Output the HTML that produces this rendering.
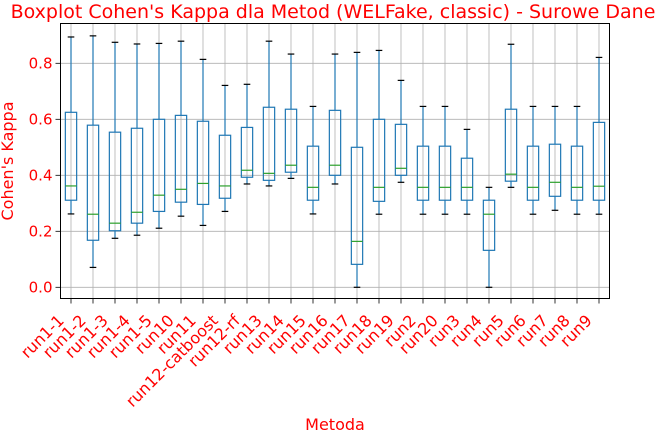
<!DOCTYPE html>
<html><head><meta charset="utf-8"><style>
html,body{margin:0;padding:0;background:#fff;}
svg{display:block;font-family:"DejaVu Sans","Liberation Sans",sans-serif;}
</style></head><body>
<svg id="chart" width="665" height="435" viewBox="0 0 665 435">
<text x="333" y="18" text-anchor="middle" font-size="19" fill="#ff0000">Boxplot Cohen's Kappa dla Metod (WELFake, classic) - Surowe Dane</text>
<text x="335" y="430" text-anchor="middle" font-size="16" fill="#ff0000">Metoda</text>
<text transform="translate(13,161) rotate(-90)" text-anchor="middle" font-size="16" fill="#ff0000">Cohen's Kappa</text>
<g id="grid"></g><g id="boxes"></g><g id="axes"></g>
</svg>
<script>
const categories=["run1-1","run1-2","run1-3","run1-4","run1-5","run10","run11","run12-catboost","run12-rf","run13","run14","run15","run16","run17","run18","run19","run2","run20","run3","run4","run5","run6","run7","run8","run9"];
const whiskerLow=[0.262,0.071,0.175,0.186,0.211,0.254,0.221,0.271,0.369,0.362,0.389,0.262,0.369,0.0,0.261,0.375,0.261,0.261,0.261,0.0,0.357,0.261,0.275,0.261,0.261];
const q1=[0.311,0.168,0.202,0.229,0.271,0.304,0.296,0.318,0.393,0.382,0.411,0.311,0.400,0.082,0.307,0.400,0.311,0.311,0.311,0.132,0.379,0.311,0.325,0.311,0.311];
const median=[0.362,0.261,0.229,0.268,0.329,0.350,0.371,0.362,0.418,0.407,0.436,0.357,0.436,0.164,0.357,0.425,0.357,0.357,0.357,0.261,0.404,0.357,0.375,0.357,0.361];
const q3=[0.625,0.579,0.554,0.568,0.600,0.614,0.593,0.543,0.571,0.643,0.636,0.504,0.632,0.500,0.600,0.582,0.504,0.504,0.461,0.311,0.636,0.504,0.511,0.504,0.589];
const whiskerHigh=[0.894,0.898,0.875,0.869,0.871,0.879,0.814,0.721,0.725,0.879,0.833,0.646,0.833,0.839,0.846,0.739,0.646,0.646,0.564,0.357,0.868,0.646,0.646,0.646,0.821];
const yTicks=[0.0,0.2,0.4,0.6,0.8];
const yTickLabels=["0.0","0.2","0.4","0.6","0.8"];

const L=60.5,R=609.5,T=23.5,B=298.5;
const yScale=v=>287.3-v*280;
const xScale=i=>71+i*22;
const NS="http://www.w3.org/2000/svg";
function mk(parent,tag,attrs){const e=document.createElementNS(NS,tag);for(const k in attrs)e.setAttribute(k,attrs[k]);parent.appendChild(e);return e;}
const grid=document.getElementById('grid'),boxes=document.getElementById('boxes'),axes=document.getElementById('axes');
yTicks.forEach((v,i)=>{
  const y=yScale(v);
  const g=mk(grid,'line',{x1:L,x2:R,y1:y,y2:y,stroke:'#b0b0b0','stroke-width':0.8});
  
  
  const t=mk(axes,'line',{x1:L-5,x2:L,y1:y,y2:y,stroke:'#000','stroke-width':0.8});
  
  
  const lb=mk(axes,'text',{x:L-8,y:y+5,'text-anchor':'end','font-size':15,fill:'#ff0000'});
  lb.textContent=yTickLabels[i];
  
  
});
categories.forEach((c,i)=>{
  const x=xScale(i);
  const g=mk(grid,'line',{x1:x,x2:x,y1:T,y2:B,stroke:'#b0b0b0','stroke-width':0.8});
  
  
  const grp=mk(boxes,'g',{});
  
  
  const w=11.3,cw=5.6;
  mk(grp,'line',{x1:x,x2:x,y1:yScale(whiskerLow[i]),y2:yScale(q1[i]),stroke:'#1f77b4','stroke-width':1.2});
  mk(grp,'line',{x1:x,x2:x,y1:yScale(q3[i]),y2:yScale(whiskerHigh[i]),stroke:'#1f77b4','stroke-width':1.2});
  mk(grp,'line',{x1:x-cw/2-0.5,x2:x+cw/2+0.5,y1:yScale(whiskerLow[i]),y2:yScale(whiskerLow[i]),stroke:'#000','stroke-width':1.2});
  mk(grp,'line',{x1:x-cw/2-0.5,x2:x+cw/2+0.5,y1:yScale(whiskerHigh[i]),y2:yScale(whiskerHigh[i]),stroke:'#000','stroke-width':1.2});
  mk(grp,'rect',{x:x-w/2,y:yScale(q3[i]),width:w,height:yScale(q1[i])-yScale(q3[i]),fill:'none',stroke:'#1f77b4','stroke-width':1.2});
  mk(grp,'line',{x1:x-w/2,x2:x+w/2,y1:yScale(median[i]),y2:yScale(median[i]),stroke:'#2ca02c','stroke-width':1.2});
  const t=mk(axes,'line',{x1:x,x2:x,y1:B,y2:B+5,stroke:'#000','stroke-width':0.8});
  
  
  const lb=mk(axes,'text',{transform:`translate(${x-6},${B+23}) rotate(-45)`,'text-anchor':'end','font-size':16,fill:'#ff0000'});
  lb.textContent=c;
  
  
});
const fr=mk(axes,'rect',{x:L,y:T,width:R-L,height:B-T,fill:'none',stroke:'#000','stroke-width':1});


</script>
</body></html>
